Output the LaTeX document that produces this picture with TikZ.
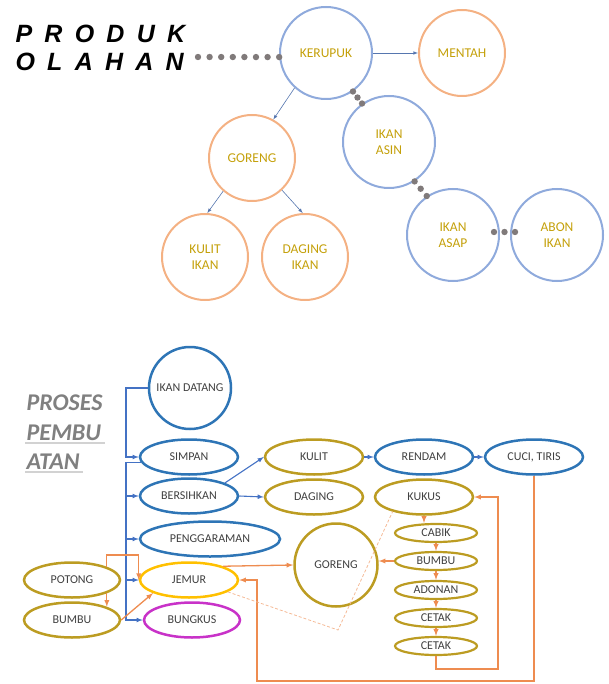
\documentclass[tikz,border=0pt]{standalone}
\usepackage{fontspec}
\setmainfont{Carlito}
\newfontfamily\titlefont[LetterSpace=49]{Liberation Sans}
\usepackage{tikz}
\usetikzlibrary{shapes.geometric,calc,arrows.meta}
\definecolor{ringblue}{RGB}{143,170,220}
\definecolor{ringorange}{RGB}{244,177,131}
\definecolor{gold}{RGB}{196,160,10}
\definecolor{dotgray}{RGB}{128,122,122}
\definecolor{darkblue}{RGB}{46,117,182}
\definecolor{mustard}{RGB}{188,156,34}
\definecolor{linkblue}{RGB}{68,114,196}
\definecolor{flowor}{RGB}{238,140,80}
\definecolor{yel}{RGB}{255,192,0}
\definecolor{purp}{RGB}{200,50,200}
\definecolor{txtgray}{RGB}{64,64,64}

\begin{document}
\begin{tikzpicture}[x=1pt,y=-1pt,
    ring/.style={circle,draw,line width=2pt,inner sep=0pt,minimum size=#1,align=center,text=gold,font=\fontsize{13.5}{16.5}\selectfont},
    ring/.default=92pt,
    blob/.style={ellipse,draw,line width=2.5pt,inner sep=0pt,minimum width=98pt,minimum height=35pt,text=txtgray,font=\fontsize{12}{13}\selectfont},
    minis/.style={blob,minimum width=82pt,minimum height=18pt,line width=2.2pt},
    thinarrow/.style={-latex,linkblue!70!gray,line width=0.6pt},
    bline/.style={-latex,linkblue,line width=1.1pt},
    oline/.style={-latex,flowor,line width=1.3pt}]
        \useasboundingbox (0,0) rectangle (608,684);
        % title top
        \node[anchor=base west,font=\titlefont\fontsize{25}{25}\selectfont\bfseries\itshape] (produk) at (12,43) {PRODUK};
        \node[anchor=base west,font=\titlefont\fontsize{25}{25}\selectfont\bfseries\itshape] (olahan) at (12,71) {OLAHAN};
        % circles
        \node[ring,draw=ringblue] (kerupuk) at (326,53) {KERUPUK};
        \node[ring=86pt,draw=ringorange] (mentah) at (462,53) {MENTAH};
        \node[ring,draw=ringblue] (asin) at (389,142) {IKAN\\ASIN};
        \node[ring,draw=ringblue] (asap) at (453,235) {IKAN\\ASAP};
        \node[ring,draw=ringblue] (abon) at (557,235) {ABON\\IKAN};
        \node[ring=86pt,draw=ringorange] (goreng) at (252,158) {GORENG};
        \node[ring=86pt,draw=ringorange] (kulitikan) at (205,257) {KULIT\\IKAN};
        \node[ring=86pt,draw=ringorange] (dagingikan) at (305,257) {DAGING\\IKAN};
        % dots
        \coordinate (dotstart) at (198,57);
        \foreach \t in {0,...,7}
            \fill[dotgray] ($(dotstart)!{\t/7}!(kerupuk.185)$) circle (3.2pt);
        \foreach \t in {0,0.5,1}{
            \fill[dotgray] ($(kerupuk.-55)!\t!(asin.125)$) circle (3.2pt);
            \fill[dotgray] ($(asin.-57)!\t!(asap.124)$) circle (3.2pt);
            \fill[dotgray] ($($(asap.east)+(-6,-3)$)!\t!($(abon.west)+(5,-3)$)$) circle (3.2pt);
        }
        % arrows
        \draw[thinarrow] (kerupuk.east) -- (mentah.west);
        \draw[thinarrow] (kerupuk.228) -- (goreng.61);
        \draw[thinarrow] (goreng.229) -- (kulitikan.87);
        \draw[thinarrow] (goreng.-47) -- (dagingikan.93);

        % title bottom
        \node[anchor=base west,font=\fontsize{24}{24}\selectfont\bfseries\itshape,text=gray] (proses) at (23,410) {PROSES};
        \node[anchor=base west,font=\fontsize{24}{24}\selectfont\bfseries\itshape,text=gray] (pembu) at (23,440) {PEMBU};
        \node[anchor=base west,font=\fontsize{24}{24}\selectfont\bfseries\itshape,text=gray] (atan) at (23,469) {ATAN};
        \draw[gray!35,line width=1.2pt] ($(pembu.base west)+(2,3)$) -- ($(pembu.base east)+(0,3)$);
        \draw[gray!35,line width=1.2pt] ($(atan.base west)+(2,3)$) -- ($(atan.base east)+(0,3)$);
        % process nodes
        \node[blob,circle,draw=darkblue,minimum size=82pt] (datang) at (190,388) {IKAN DATANG};
        \node[blob,draw=darkblue] (simpan) at (189,457) {SIMPAN};
        \node[blob,draw=darkblue] (bersih) at (189,496) {BERSIHKAN};
        \node[blob,draw=darkblue,minimum width=140pt] (garam) at (210,539) {PENGGARAMAN};
        \node[blob,draw=yel] (jemur) at (189,580) {JEMUR};
        \node[blob,draw=purp,minimum width=96pt] (bungkus) at (192,620) {BUNGKUS};
        \node[blob,draw=mustard,minimum width=96pt] (potong) at (72,580) {POTONG};
        \node[blob,draw=mustard,minimum width=96pt] (bumbuA) at (72,620) {BUMBU};
        \node[blob,draw=mustard] (kulit) at (314,457) {KULIT};
        \node[blob,draw=mustard] (daging) at (314,497) {DAGING};
        \node[blob,draw=darkblue] (rendam) at (424,457) {RENDAM};
        \node[blob,draw=darkblue] (cuci) at (534,457) {CUCI, TIRIS};
        \node[blob,draw=mustard] (kukus) at (424,497) {KUKUS};
        \node[blob,circle,draw=mustard,minimum size=83pt] (gorengB) at (336,565) {GORENG};
        \node[minis,draw=mustard] (cabik) at (436,533) {CABIK};
        \node[minis,draw=mustard] (bumbuB) at (436,561) {BUMBU};
        \node[minis,draw=mustard] (adonan) at (436,590) {ADONAN};
        \node[minis,draw=mustard] (cetakA) at (436,618) {CETAK};
        \node[minis,draw=mustard] (cetakB) at (436,646) {CETAK};
        % blue flow
        \coordinate (trunk) at (126,0);
        \draw[bline] (datang.west) -- (datang.west -| trunk) |- (simpan.west);
        \draw[bline] (simpan.187) -- (simpan.187 -| trunk) |- (bungkus.west);
        \foreach \n in {bersih,garam,jemur}
            \draw[bline] (\n.west -| trunk) -- (\n.west);
        \draw[bline] (bersih.20) -- (kulit.west);
        \draw[bline] (bersih.east) -- (daging.west);
        \draw[bline] (kulit.east) -- (rendam.west);
        \draw[bline] (rendam.east) -- (cuci.west);
        % orange flow
        \coordinate (loopA) at (257,681);
        \coordinate (loopB) at (498,669);
        \draw[oline] (cuci.south) |- (loopA) |- (jemur.east);
        \draw[oline] (cetakB.south) |- (loopB) |- (kukus.east);
        \draw[oline] (jemur.22) -- (gorengB.west);
        \draw[oline] (bumbuB.west) -- (bumbuB.west -| gorengB.east);
        \draw[oline] (kukus.south) -- (kukus.south |- cabik.north);
        \foreach \a/\b in {cabik/bumbuB,bumbuB/adonan,adonan/cetakA,cetakA/cetakB}
            \draw[oline] (\a.south) -- (\b.north);
        \draw[oline] (potong.north east) |- ($(jemur.west)+(0,-25)$) -- (jemur.west);
        \draw[oline] (potong.south east) -- (bumbuA.north east);
        \draw[oline] (bumbuA.east) -- (jemur.200);
        % dashed frame
        \coordinate (dashC) at (338,630);
        \draw[flowor!60,densely dashed,line width=0.8pt] (jemur.-17) -- (dashC) -- (kukus.205);
      \end{tikzpicture}
\end{document}
